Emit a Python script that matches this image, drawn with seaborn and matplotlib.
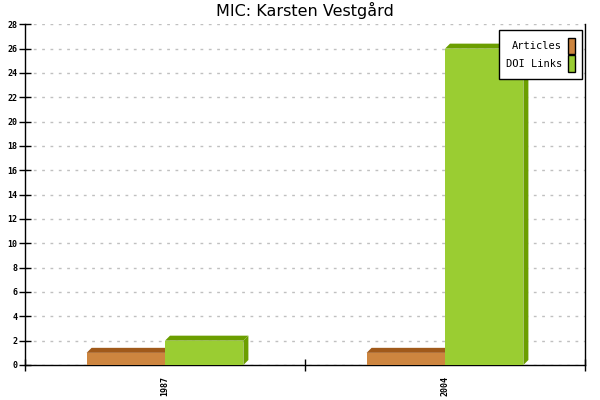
import matplotlib
matplotlib.use("Agg")
import matplotlib.pyplot as plt
import seaborn as sns
import pandas as pd
import numpy as np
from matplotlib.patches import Polygon, Patch

years = ["1987", "2004"]
articles = [1, 1]
doi_links = [2, 26]
series_names = ["Articles", "DOI Links"]
face_colors = ["#CD853F", "#9ACD32"]
dark_colors = ["#A0591A", "#6B9E00"]

df = pd.DataFrame({
    "year": years * 2,
    "value": articles + doi_links,
    "series": [series_names[0]] * len(years) + [series_names[1]] * len(years),
})

sns.set_style("white")
plt.rcParams["font.family"] = ["DejaVu Sans"]
plt.rcParams["text.color"] = "black"
plt.rcParams["xtick.color"] = "black"
plt.rcParams["ytick.color"] = "black"

fig = plt.figure(figsize=(6, 4), dpi=100)
ax = fig.add_axes([25 / 600, 35 / 400, 560 / 600, 340.7 / 400])

sns.barplot(data=df, x="year", y="value", hue="series", palette=face_colors,
            width=0.56, dodge=True, ax=ax, legend=False, saturation=1,
            edgecolor="none", linewidth=0, zorder=3)

ax.set_xlim(-0.5, len(years) - 0.5)
ax.set_ylim(0, 28)

# 3D depth (pixels converted into data units)
depth_px = 5
dx = depth_px / 560 * (ax.get_xlim()[1] - ax.get_xlim()[0])
dy = depth_px / 340.7 * (ax.get_ylim()[1] - ax.get_ylim()[0])

bars = [p for p in ax.patches]
for i, p in enumerate(bars):
    s = i // len(years)
    x0 = p.get_x()
    w = p.get_width()
    h = p.get_height()
    x1 = x0 + w
    top = Polygon([(x0, h), (x1, h), (x1 + dx, h + dy), (x0 + dx, h + dy)],
                  closed=True, facecolor=dark_colors[s], edgecolor="none",
                  zorder=2.5 + s)
    side = Polygon([(x1, 0), (x1 + dx, dy), (x1 + dx, h + dy), (x1, h)],
                   closed=True, facecolor=dark_colors[s], edgecolor="none",
                   zorder=2.5 + s)
    ax.add_patch(top)
    ax.add_patch(side)
    p.set_zorder(3 + s)

ax.set_yticks(np.arange(0, 29, 2))
ax.yaxis.grid(True, linestyle=(0, (2, 4)), color="#C0C0C0", linewidth=1)
ax.xaxis.grid(False)
ax.set_axisbelow(True)

ax.set_xticks(np.arange(len(years)))
ax.set_xticklabels(years, rotation=90, family="DejaVu Sans Mono", fontsize=6,
                   fontweight="bold")
ax.set_xticks(np.arange(-0.5, len(years), 1), minor=True)
ax.tick_params(axis="x", which="major", length=0, pad=8, bottom=True)
ax.tick_params(axis="x", which="minor", length=9, width=1, color="black",
               direction="inout", bottom=True)
ax.tick_params(axis="y", length=9, width=1, color="black", direction="inout",
               labelsize=6, pad=1, left=True)
for lab in ax.get_yticklabels():
    lab.set_family("DejaVu Sans Mono")
    lab.set_fontweight("bold")

ax.set_xlabel("")
ax.set_ylabel("")
for side_name in ["left", "bottom", "right"]:
    ax.spines[side_name].set_visible(True)
    ax.spines[side_name].set_color("black")
    ax.spines[side_name].set_linewidth(1)
ax.spines["top"].set_visible(False)

ax.set_title("MIC: Karsten Vestgård", fontsize=11.5, pad=6, color="black")

handles = [Patch(facecolor=c, edgecolor="black", linewidth=1) for c in face_colors]
leg = ax.legend(handles, series_names, loc="upper right", markerfirst=False,
                prop={"family": "DejaVu Sans Mono", "size": 7.5},
                frameon=True, fancybox=False, edgecolor="black", framealpha=1,
                handlelength=0.6, handleheight=2.1, handletextpad=0.6,
                borderpad=0.7, labelspacing=0.1, borderaxespad=0,
                bbox_to_anchor=(557 / 560, 1 - 6 / 340.7))
leg.get_frame().set_linewidth(1)
leg.set_zorder(10)

fig.savefig("out.png", dpi=100)
